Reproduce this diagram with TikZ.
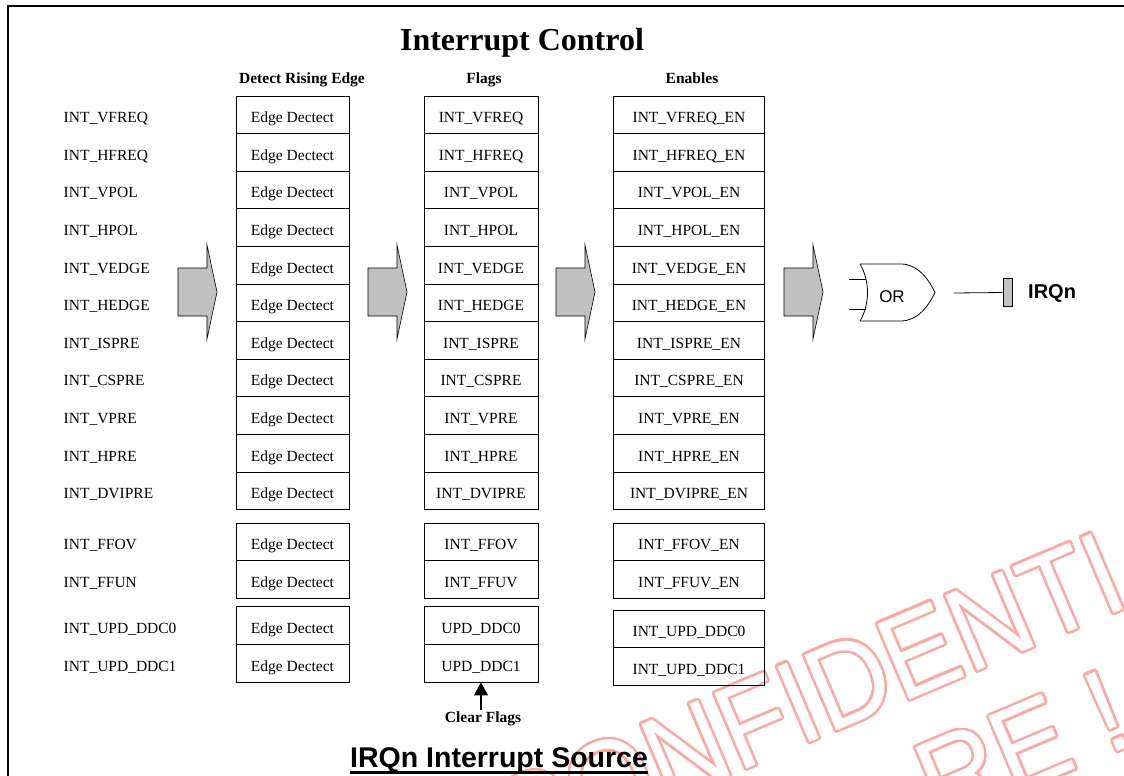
\documentclass[tikz,border=0pt]{standalone}
\usepackage{fontspec}
\setmainfont{Liberation Serif}
\newfontfamily\arialf{Liberation Sans}
\newfontfamily\wmfont{Liberation Sans}
\usepackage[copies]{contour}
\usetikzlibrary{arrows.meta}
\definecolor{wm}{RGB}{255,166,158}
\definecolor{gfill}{RGB}{192,192,192}
\contourlength{2.2pt}
\contournumber{48}
\begin{document}
\begin{tikzpicture}[x=1pt,y=-1pt,
  every node/.style={inner sep=0pt},
  body/.style={font=\fontsize{15.5}{18}\selectfont, text height=15.7pt, text depth=0pt},
  cell/.style={body, draw, line width=0.9pt, minimum height=37.6pt},
  edgecell/.style={cell, minimum width=113pt},
  flagcell/.style={cell, minimum width=114pt},
  encell/.style={cell, minimum width=151.5pt},
  hdr/.style={font=\bfseries\fontsize{15.5}{18}\selectfont, anchor=base},
  blockarrow/.style={draw, fill=gfill, line width=0.6pt, line join=miter},
  wmtext/.style={rotate=23, xscale=0.925, inner sep=0pt, font=\wmfont\fontsize{119}{130}\selectfont},
]
\useasboundingbox (0,0) rectangle (1124,776);
\clip (0,0) rectangle (1124,776);
\fill[white] (0,0) rectangle (1124,776);

% watermark
\node[wmtext, anchor=base west] (wm1) at (513,868) {\contour{wm}{\textcolor{white}{CONFIDENTIAL}}};
\node[wmtext, anchor=base east] (wm2) at (1137,743) {\contour{wm}{\textcolor{white}{RE !}}};

% frame
\draw[line width=2pt] (8,800) -- (8,6) -- (1140,6);

% titles
\node[font=\bfseries\fontsize{32}{36}\selectfont, anchor=base] (title) at (522,51) {Interrupt Control};
\node[hdr] (h1) at (302,83) {Detect Rising Edge};
\node[hdr] (h2) at (484,83) {Flags};
\node[hdr] (h3) at (692,83) {Enables};

% rows
\foreach \i/\yy/\ye/\lab/\flg/\en in {
  1/114.8/114.8/INT\_VFREQ/INT\_VFREQ/INT\_VFREQ\_EN,
  2/152.4/152.4/INT\_HFREQ/INT\_HFREQ/INT\_HFREQ\_EN,
  3/190.0/190.0/INT\_VPOL/INT\_VPOL/INT\_VPOL\_EN,
  4/227.6/227.6/INT\_HPOL/INT\_HPOL/INT\_HPOL\_EN,
  5/265.2/265.2/INT\_VEDGE/INT\_VEDGE/INT\_VEDGE\_EN,
  6/302.8/302.8/INT\_HEDGE/INT\_HEDGE/INT\_HEDGE\_EN,
  7/340.4/340.4/INT\_ISPRE/INT\_ISPRE/INT\_ISPRE\_EN,
  8/378.0/378.0/INT\_CSPRE/INT\_CSPRE/INT\_CSPRE\_EN,
  9/415.6/415.6/INT\_VPRE/INT\_VPRE/INT\_VPRE\_EN,
  10/453.2/453.2/INT\_HPRE/INT\_HPRE/INT\_HPRE\_EN,
  11/490.8/490.8/INT\_DVIPRE/INT\_DVIPRE/INT\_DVIPRE\_EN,
  12/541.8/541.8/INT\_FFOV/INT\_FFOV/INT\_FFOV\_EN,
  13/579.4/579.4/INT\_FFUN/INT\_FFUV/INT\_FFUV\_EN,
  14/625.6/628.8/INT\_UPD\_DDC0/UPD\_DDC0/INT\_UPD\_DDC0,
  15/663.2/666.4/INT\_UPD\_DDC1/UPD\_DDC1/INT\_UPD\_DDC1}{
  \node[body, anchor=west] (l\i) at (63.5,\yy) {\lab};
  \node[edgecell] (e\i) at (292.5,\yy) {Edge Dectect};
  \node[flagcell] (f\i) at (481,\yy) {\flg};
  \node[encell] (n\i) at (689,\ye) {\en};
}

% block arrows
\foreach \x in {178,368,556,784}{
  \draw[blockarrow] (\x,268) -- (\x+29,268) -- (\x+29,245) -- (\x+39,292) -- (\x+29,339) -- (\x+29,316) -- (\x,316) -- cycle;
}

% OR gate
\draw[line width=0.8pt] (860,264) .. controls (870,281) and (870,304) .. (860,321);
\draw[line width=0.8pt, line join=round] (860,264) -- (902,264) .. controls (918,265) and (928,278) .. (935,292.5) .. controls (928,307) and (918,320) .. (902,321) -- (860,321);
\draw[line width=0.8pt] (849,279) -- (866,279);
\draw[line width=0.8pt] (849,309) -- (866,309);
\node[font=\arialf\fontsize{17}{20}\selectfont] (orl) at (892,297) {OR};
\coordinate (orout) at (954,293);
\node[draw, fill=gfill, line width=0.8pt, minimum width=9.5pt, minimum height=28.5pt] (irqb) at (1007.8,292.5) {};
\draw[line width=0.8pt] (orout) -- (irqb.west);
\node[anchor=west, font=\arialf\bfseries\fontsize{20}{24}\selectfont] (irql) at (1028,293) {IRQn};

% clear flags
\node[font=\bfseries\fontsize{15.5}{18}\selectfont, anchor=base, inner sep=1pt] (clr) at (483,722) {Clear Flags};
\draw[line width=1.2pt, -{Triangle[width=14pt,length=13pt]}] (clr.north -| f15.south) -- (f15.south);

% source title
\node[font=\arialf\bfseries\fontsize{28.5}{32}\selectfont, anchor=base west] (src) at (350,767) {IRQn Interrupt Source};
\draw[line width=3pt] ([yshift=-5.5pt]src.base west) -- ([yshift=-5.5pt]src.base east);
\end{tikzpicture}
\end{document}
